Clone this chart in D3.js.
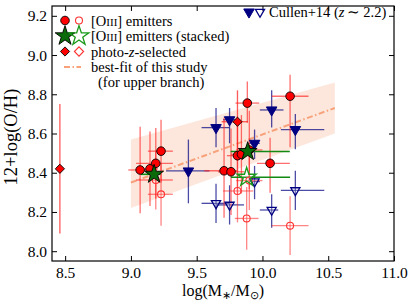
<!DOCTYPE html>
<html>
<head>
<meta charset="utf-8">
<script src="https://cdn.jsdelivr.net/npm/d3@7"></script>
<style>
  body { margin: 0; background: #fff; }
  svg { display: block; font-family: "Liberation Serif", "Times New Roman", serif; }
</style>
</head>
<body>
<div id="chart"></div>
<script>
// data: [logM, 12+log(O/H), dxLo, dxHi, dyLo, dyHi]
const emittersUpper = [
  [9.07, 8.414, 0.09, 0.10, 0.22, 0.22],
  [9.145, 8.42, 0.06, 0.06, 0.19, 0.19],
  [9.189, 8.448, 0.15, 0.13, 0.18, 0.18],
  [9.229, 8.51, 0.10, 0.09, 0.16, 0.16],
  [9.708, 8.41, 0.15, 0.10, 0.24, 0.27],
  [9.761, 8.405, 0.10, 0.10, 0.22, 0.22],
  [9.81, 8.487, 0.08, 0.08, 0.20, 0.20],
  [9.84, 8.494, 0.08, 0.08, 0.20, 0.20],
  [9.885, 8.755, 0.09, 0.09, 0.10, 0.11],
  [9.90, 8.516, 0.10, 0.10, 0.20, 0.20],
  [10.058, 8.448, 0.10, 0.15, 0.15, 0.13],
  [10.21, 8.79, 0.14, 0.14, 0.26, 0.11]
];
const emittersLower = [
  [9.189, 8.363, 0.15, 0.13, 0.15, 0.15],
  [9.229, 8.29, 0.10, 0.09, 0.16, 0.16],
  [9.81, 8.307, 0.11, 0.12, 0.16, 0.16],
  [9.90, 8.36, 0.10, 0.10, 0.15, 0.15],
  [9.88, 8.167, 0.09, 0.09, 0.16, 0.16],
  [10.21, 8.13, 0.14, 0.14, 0.15, 0.15]
];
const photozUpper = [
  [8.46, 8.42, 0, 0, 0.33, 0.33],
  [9.81, 8.66, 0.12, 0.08, 0.20, 0.16]
];
const stackedUpper = [
  [9.176, 8.392, 0.10, 0.05, 0, 0],
  [9.888, 8.508, 0.13, 0.32, 0, 0]
];
const stackedLower = [
  [9.88, 8.377, 0.12, 0.33, 0, 0]
];
const cullenUpper = [
  [9.437, 8.409, 0.17, 0.16, 0.165, 0.16],
  [9.647, 8.63, 0.11, 0.10, 0.10, 0.10],
  [9.75, 8.67, 0.05, 0.05, 0.12, 0.06],
  [9.94, 8.55, 0.04, 0.04, 0.08, 0.07],
  [10.07, 8.72, 0.09, 0.09, 0.09, 0.10],
  [10.25, 8.62, 0.11, 0.22, 0.10, 0.08]
];
const cullenLower = [
  [9.647, 8.244, 0.11, 0.10, 0.10, 0.10],
  [9.75, 8.236, 0.10, 0.11, 0.10, 0.10],
  [9.94, 8.355, 0.04, 0.04, 0.09, 0.08],
  [10.07, 8.21, 0.09, 0.05, 0.09, 0.08],
  [10.25, 8.31, 0.11, 0.22, 0.10, 0.10]
];
// best fit (upper branch) and its band at the two ends
const fitMass = [9.0, 10.55];
const fitOH = [8.35, 8.73];
const bandLo = [8.22, 8.60];
const bandHi = [8.57, 8.86];

const xTicks = [8.5, 9.0, 9.5, 10.0, 10.5, 11.0];
const yTicks = [8.0, 8.2, 8.4, 8.6, 8.8, 9.0, 9.2];

const width = 416, height = 307;
const margin = { top: 6, right: 22, bottom: 46, left: 52 };
const W = width - margin.left - margin.right;
const H = height - margin.top - margin.bottom;

const svg = d3.select("#chart").append("svg")
  .attr("width", width).attr("height", height);
const g = svg.append("g").attr("transform", `translate(${margin.left},${margin.top})`);

const x = d3.scaleLinear().domain([8.4, 11.0]).range([0, W]);
const y = d3.scaleLinear().domain([7.95, 9.25]).range([H, 0]);

const plot = g.append("g");
plot.append("clipPath").attr("id", "clip").append("rect").attr("width", W).attr("height", H);
const inner = plot.append("g").attr("clip-path", "url(#clip)");

// band + fit line
inner.append("path")
  .attr("d", d3.line()([
    [x(fitMass[0]), y(bandLo[0])], [x(fitMass[1]), y(bandLo[1])],
    [x(fitMass[1]), y(bandHi[1])], [x(fitMass[0]), y(bandHi[0])]
  ]) + "Z")
  .attr("fill", "#fbd3c0").attr("opacity", 0.55);
inner.append("line")
  .attr("x1", x(fitMass[0])).attr("y1", y(fitOH[0]))
  .attr("x2", x(fitMass[1])).attr("y2", y(fitOH[1]))
  .attr("stroke", "#f7a27a").attr("stroke-width", 2)
  .attr("stroke-dasharray", "6,2.5,1.5,2.5");

// error bars
function errorBars(data, color, opacity, sw) {
  const e = inner.append("g").attr("stroke", color).attr("stroke-opacity", opacity).attr("stroke-width", sw);
  data.forEach(d => {
    if (d[2] || d[3]) e.append("line")
      .attr("x1", x(d[0] - d[2])).attr("x2", x(d[0] + d[3]))
      .attr("y1", y(d[1])).attr("y2", y(d[1]));
    if (d[4] || d[5]) e.append("line")
      .attr("x1", x(d[0])).attr("x2", x(d[0]))
      .attr("y1", y(d[1] - d[4])).attr("y2", y(d[1] + d[5]));
  });
}
errorBars(cullenUpper, "#000080", 0.7, 1.3);
errorBars(cullenLower, "#000080", 0.7, 1.3);
errorBars(emittersLower, "#ff2020", 0.55, 1.3);
errorBars(emittersUpper, "#ff2020", 0.65, 1.3);
errorBars(photozUpper, "#ff2020", 0.75, 1.3);
errorBars(stackedUpper, "#138a13", 1, 1.6);
errorBars(stackedLower, "#138a13", 1, 1.6);

// markers
const sym = (type, size) => d3.symbol().type(type).size(size)();
function markers(data, path, fill, stroke, sw, rot) {
  inner.append("g").selectAll("path").data(data).join("path")
    .attr("d", path)
    .attr("transform", d => `translate(${x(d[0])},${y(d[1])})${rot ? " rotate(" + rot + ")" : ""}`)
    .attr("fill", fill).attr("stroke", stroke).attr("stroke-width", sw);
}
const circleBig = sym(d3.symbolCircle, 58);
const circleOpen = sym(d3.symbolCircle, 38);
const diamond = "M0,-4.6L4.6,0L0,4.6L-4.6,0Z";
const tri = sym(d3.symbolTriangle, 48);
const triOpen = sym(d3.symbolTriangle, 36);
const star = sym(d3.symbolStar, 110);

markers(emittersLower, circleOpen, "rgba(255,255,255,0.15)", "#ff3030", 1.1);
markers(cullenLower, triOpen, "rgba(255,255,255,0.2)", "#000080", 1.3, 180);
markers(cullenUpper, tri, "#000080", "#000080", 1, 180);
markers(emittersUpper, circleBig, "#ff0000", "#000", 0.9);
markers(photozUpper, diamond, "#ff0000", "#000", 0.9);
markers(stackedLower, star, "rgba(255,255,255,0.1)", "#1a9a1a", 1.4);
markers(stackedUpper, star, "#0b6b0b", "#000", 0.9);

// axes (ticks inward on all four sides)
const tickFont = 15.5;
const axB = g.append("g").attr("transform", `translate(0,${H})`)
  .call(d3.axisBottom(x).tickValues(xTicks).tickFormat(d3.format(".1f")).tickSizeInner(-5).tickSizeOuter(0).tickPadding(6));
const axT = g.append("g")
  .call(d3.axisTop(x).tickValues(xTicks).tickFormat("").tickSizeInner(-5).tickSizeOuter(0));
const axL = g.append("g")
  .call(d3.axisLeft(y).tickValues(yTicks).tickFormat(d3.format(".1f")).tickSizeInner(-5).tickSizeOuter(0).tickPadding(5));
const axR = g.append("g").attr("transform", `translate(${W},0)`)
  .call(d3.axisRight(y).tickValues(yTicks).tickFormat("").tickSizeInner(-5).tickSizeOuter(0));
[axB, axT, axL, axR].forEach(a => {
  a.select(".domain").remove();
  a.selectAll("line").attr("stroke", "#000").attr("stroke-width", 1);
  a.selectAll("text").attr("fill", "#000").style("font-size", tickFont + "px")
    .style("font-family", "'Liberation Serif', serif");
});
g.append("rect").attr("width", W).attr("height", H)
  .attr("fill", "none").attr("stroke", "#000").attr("stroke-width", 1.2);

// axis titles
const xt = svg.append("text")
  .attr("x", margin.left + W / 2).attr("y", 296)
  .attr("text-anchor", "middle").style("font-size", "16px");
xt.append("tspan").text("log(M");
xt.append("tspan").attr("dy", 3).style("font-size", "11px").text("∗");
xt.append("tspan").attr("dy", -3).text("/M");
xt.append("tspan").attr("dy", 3).style("font-size", "11px").text("⊙");
xt.append("tspan").attr("dy", -3).text(")");

svg.append("text")
  .attr("transform", `translate(17,137) rotate(-90)`)
  .attr("text-anchor", "middle").style("font-size", "18.5px")
  .text("12+log(O/H)");

// legend (top left)
const leg = svg.append("g").style("font-size", "14.5px");
const lx1 = 65, lx2 = 79, ltx = 91;
const rows = [20.5, 36, 51.5, 67, 81.5];
function legText(yy, parts, xx) {
  const t = leg.append("text").attr("x", xx || ltx).attr("y", yy + 5);
  parts.forEach(p => {
    const s = t.append("tspan").text(p[0]);
    if (p[1]) s.style("font-size", p[1]);
    if (p[2]) s.style("font-style", p[2]);
  });
}
leg.append("path").attr("d", circleBig).attr("transform", `translate(${lx1},${rows[0]})`)
  .attr("fill", "#ff0000").attr("stroke", "#000").attr("stroke-width", 0.9);
leg.append("path").attr("d", circleOpen).attr("transform", `translate(${lx2},${rows[0]})`)
  .attr("fill", "none").attr("stroke", "#ff3030").attr("stroke-width", 1.1);
legText(rows[0], [["[O"], ["III", "11px"], ["] emitters"]]);

leg.append("path").attr("d", sym(d3.symbolStar, 120)).attr("transform", `translate(${lx1},${rows[1]})`)
  .attr("fill", "#0b6b0b").attr("stroke", "#000").attr("stroke-width", 0.9);
leg.append("path").attr("d", sym(d3.symbolStar, 120)).attr("transform", `translate(${lx2},${rows[1]})`)
  .attr("fill", "none").attr("stroke", "#1a9a1a").attr("stroke-width", 1.3);
legText(rows[1], [["[O"], ["III", "11px"], ["] emitters (stacked)"]]);

leg.append("path").attr("d", diamond).attr("transform", `translate(${lx1},${rows[2]})`)
  .attr("fill", "#ff0000").attr("stroke", "#000").attr("stroke-width", 0.9);
leg.append("path").attr("d", diamond).attr("transform", `translate(${lx2},${rows[2]})`)
  .attr("fill", "none").attr("stroke", "#ff3030").attr("stroke-width", 1.1);
legText(rows[2], [["photo-"], ["z", null, "italic"], ["-selected"]]);

leg.append("line").attr("x1", lx1 - 1).attr("x2", lx2 + 2).attr("y1", rows[3]).attr("y2", rows[3])
  .attr("stroke", "#f7a27a").attr("stroke-width", 2).attr("stroke-dasharray", "6,2.5,1.5,2.5");
legText(rows[3], [["best-fit of this study"]]);
legText(rows[4], [["(for upper branch)"]], 98);

// legend (top right)
leg.append("path").attr("d", tri).attr("transform", `translate(249,${12}) rotate(180)`)
  .attr("fill", "#000080").attr("stroke", "#000080");
leg.append("path").attr("d", triOpen).attr("transform", `translate(260,${12}) rotate(180)`)
  .attr("fill", "none").attr("stroke", "#000080").attr("stroke-width", 1.3);
legText(12, [["Cullen+14 ("], ["z", null, "italic"], ["\u2009∼\u20092.2)"]], 269);
</script>
</body>
</html>
